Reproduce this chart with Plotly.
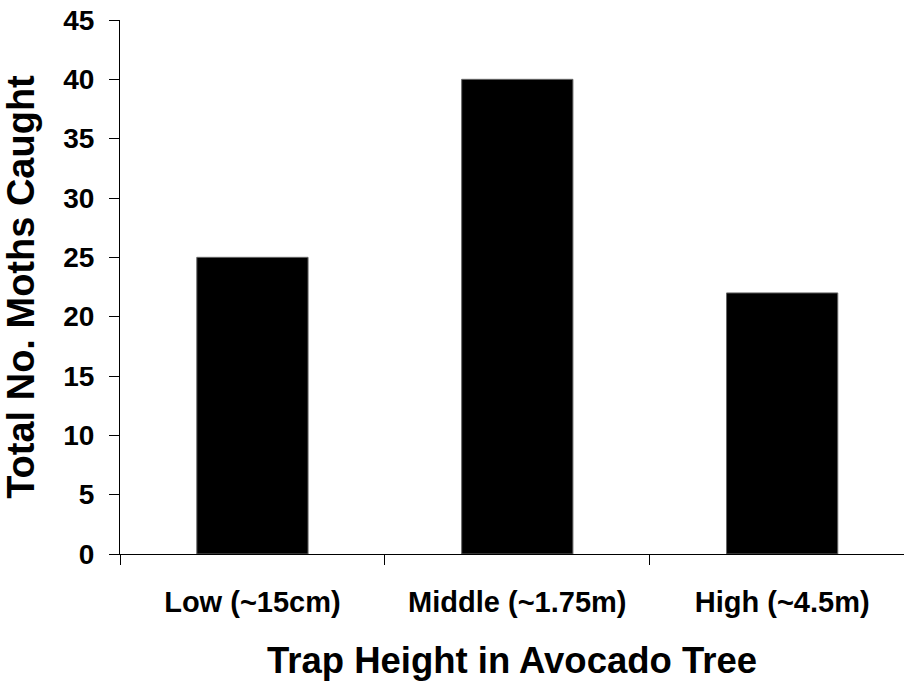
import plotly.graph_objects as go

categories = ["Low (~15cm)", "Middle (~1.75m)", "High (~4.5m)"]
moths_caught = [25, 40, 22]
y_ticks = [0, 5, 10, 15, 20, 25, 30, 35, 40, 45]

FONT = "Liberation Sans, Arial, sans-serif"

fig = go.Figure(
    go.Bar(
        x=list(range(len(categories))),
        y=moths_caught,
        width=0.42,
        marker=dict(color="#000000", line=dict(color="#666666", width=1)),
    )
)

fig.update_layout(
    width=904,
    height=681,
    margin=dict(l=120, r=0, t=20, b=127),
    paper_bgcolor="white",
    plot_bgcolor="white",
    showlegend=False,
    font=dict(family=FONT, color="black"),
)

fig.update_xaxes(
    range=[-0.5, 2.46],
    tickmode="array",
    tickvals=[0, 1, 2],
    ticktext=categories,
    showline=True,
    linecolor="black",
    linewidth=1,
    showgrid=False,
    zeroline=False,
    ticks="",
    automargin=False,
    tickfont=dict(size=29, family=FONT, weight="bold"),
    ticklabelstandoff=22,
    title=dict(text="Trap Height in Avocado Tree",
               font=dict(size=36.5, family=FONT, weight="bold"), standoff=30),
)

# category boundary ticks drawn via a secondary overlay axis
fig.update_layout(
    xaxis2=dict(
        overlaying="x",
        range=[-0.5, 2.46],
        tickmode="array",
        tickvals=[-0.5, 0.5, 1.5, 2.5],
        ticks="outside",
        ticklen=10,
        tickcolor="black",
        tickwidth=1,
        showticklabels=False,
        showgrid=False,
        zeroline=False,
        showline=False,
        side="bottom",
        anchor="y",
        automargin=False,
    )
)
fig.add_trace(go.Scatter(x=[0], y=[None], xaxis="x2", showlegend=False, hoverinfo="skip"))

fig.update_yaxes(
    range=[0, 45],
    tickmode="array",
    tickvals=y_ticks,
    showline=True,
    linecolor="black",
    linewidth=1,
    showgrid=False,
    zeroline=False,
    ticks="outside",
    ticklen=10,
    tickcolor="black",
    automargin=False,
    tickfont=dict(size=28, family=FONT, weight="bold"),
    ticklabelstandoff=9,
    title=dict(text="Total No. Moths Caught",
               font=dict(size=38, family=FONT, weight="bold"), standoff=22),
)

fig.write_html(
    "out.html",
    config={"displayModeBar": False},
    post_script="document.body.style.margin='0';document.body.style.overflow='hidden';",
)
